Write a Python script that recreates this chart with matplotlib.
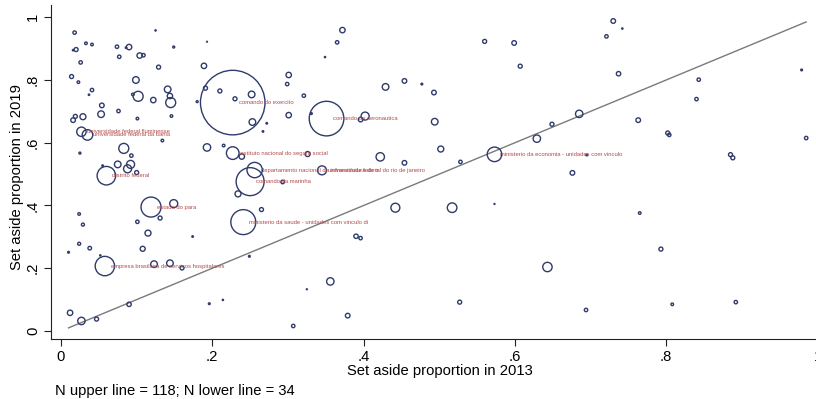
import numpy as np
import matplotlib.pyplot as plt

plt.rcParams["font.family"] = ["Liberation Sans", "DejaVu Sans"]

# set aside proportion per organisation (2013 vs 2019) and bubble weight
share_2013 = [
    0.018, 0.033, 0.041, 0.020, 0.016, 0.074, 0.090, 0.086, 0.125, 0.149,
    0.026, 0.077, 0.104, 0.109, 0.129, 0.189, 0.193, 0.014, 0.023, 0.099,
    0.041, 0.037, 0.102, 0.095, 0.122, 0.141, 0.144, 0.145, 0.054, 0.053,
    0.076, 0.019, 0.016, 0.029, 0.101, 0.146, 0.180, 0.227, 0.191, 0.210,
    0.230, 0.252, 0.253, 0.027, 0.035, 0.025, 0.083, 0.093, 0.134, 0.193,
    0.215, 0.227, 0.239, 0.075, 0.092, 0.088, 0.100, 0.055, 0.060, 0.326,
    0.256, 0.250, 0.234, 0.293, 0.265, 0.119, 0.149, 0.131, 0.101, 0.115,
    0.108, 0.174, 0.024, 0.029, 0.024, 0.038, 0.010, 0.052, 0.241, 0.058,
    0.123, 0.144, 0.160, 0.249, 0.090, 0.012, 0.027, 0.047, 0.196, 0.214,
    0.307, 0.325, 0.372, 0.365, 0.349, 0.301, 0.299, 0.321, 0.301, 0.272,
    0.267, 0.351, 0.331, 0.402, 0.396, 0.429, 0.454, 0.477, 0.493, 0.494,
    0.502, 0.422, 0.454, 0.345, 0.528, 0.442, 0.517, 0.390, 0.396, 0.356,
    0.379, 0.560, 0.599, 0.607, 0.730, 0.742, 0.721, 0.737, 0.573, 0.629,
    0.649, 0.685, 0.676, 0.695, 0.573, 0.643, 0.527, 0.694, 0.843, 0.840,
    0.979, 0.763, 0.802, 0.804, 0.985, 0.885, 0.888, 0.765, 0.793, 0.808,
    0.892,
]
share_2019 = [
    0.951, 0.917, 0.913, 0.897, 0.895, 0.906, 0.905, 0.903, 0.958, 0.905,
    0.856, 0.874, 0.878, 0.879, 0.841, 0.845, 0.922, 0.811, 0.793, 0.800,
    0.768, 0.753, 0.748, 0.754, 0.736, 0.770, 0.749, 0.728, 0.719, 0.691,
    0.701, 0.684, 0.672, 0.683, 0.677, 0.685, 0.731, 0.728, 0.774, 0.765,
    0.740, 0.754, 0.666, 0.635, 0.625, 0.567, 0.582, 0.559, 0.607, 0.585,
    0.591, 0.567, 0.556, 0.531, 0.531, 0.517, 0.505, 0.527, 0.495, 0.564,
    0.513, 0.476, 0.437, 0.475, 0.387, 0.395, 0.406, 0.360, 0.348, 0.312,
    0.262, 0.301, 0.373, 0.339, 0.278, 0.264, 0.251, 0.241, 0.347, 0.207,
    0.213, 0.216, 0.201, 0.238, 0.085, 0.058, 0.032, 0.038, 0.087, 0.099,
    0.016, 0.133, 0.959, 0.920, 0.873, 0.816, 0.787, 0.750, 0.688, 0.662,
    0.636, 0.677, 0.693, 0.685, 0.674, 0.778, 0.797, 0.787, 0.760, 0.667,
    0.580, 0.555, 0.536, 0.512, 0.539, 0.393, 0.393, 0.302, 0.296, 0.158,
    0.049, 0.923, 0.918, 0.844, 0.988, 0.964, 0.939, 0.820, 0.563, 0.613,
    0.659, 0.692, 0.504, 0.561, 0.405, 0.204, 0.092, 0.067, 0.801, 0.739,
    0.832, 0.672, 0.631, 0.625, 0.615, 0.562, 0.552, 0.376, 0.261, 0.085,
    0.092,
]
weight = [
    2.9, 1.7, 1.7, 4, 0.5, 2.9, 7.3, 0.6, 0.4, 1,
    2.9, 2.9, 7.3, 2.9, 4, 7.3, 0.2, 4, 1.7, 11,
    2.9, 0.5, 25, 1.7, 7.3, 11, 7.3, 25, 5.3, 11,
    2.9, 4, 5.3, 9, 1.7, 1.7, 1, 1043, 4, 4,
    4, 11, 11, 22, 28, 1, 25, 2.9, 1.7, 13.7,
    1.7, 40, 7.3, 11, 16, 16, 4, 0.6, 86, 6.3,
    59, 196, 9, 3.2, 4, 100, 16, 4, 2.9, 9,
    6.3, 0.6, 1.7, 2.3, 2.3, 3.2, 0.8, 0.4, 156, 94,
    11, 11, 4, 0.8, 4.8, 7.3, 13.7, 4, 0.8, 0.4,
    2.9, 0.25, 7.3, 2.9, 0.4, 7.3, 2.9, 2.9, 7.3, 0.6,
    0.6, 300, 0.8, 16, 5.3, 11, 5.3, 0.8, 5.3, 11,
    9, 17.6, 5.3, 20, 2.9, 20, 23, 4.8, 2.9, 13.7,
    5.3, 4, 5.3, 4, 5.3, 0.4, 2.9, 4.8, 53, 13.7,
    4, 13.7, 5.3, 0.8, 0.25, 22, 4, 2.9, 2.9, 2.9,
    0.8, 5.3, 4, 2.9, 2.9, 4, 4, 1.7, 4, 1.7,
    2.9,
]

# labelled organisations -> position in the arrays above
labelled = {
    "comando do exercito": 37,
    "universidade federal fluminense": 43,
    "universidade federal da bahia": 44,
    "instituto nacional do seguro social": 51,
    "distrito federal": 58,
    "departamento nacional de infraestrutura de tr": 60,
    "comando da marinha": 61,
    "estado do para": 65,
    "ministerio da saude - unidades com vinculo di": 78,
    "empresa brasileira de servicos hospitalares": 79,
    "comando da aeronautica": 101,
    "universidade federal do rio de janeiro": 113,
    "ministerio da economia - unidades com vinculo": 128,
}

x = np.array(share_2013)
y = np.array(share_2019)
w = np.array(weight)

n_upper = 118
n_lower = 34

navy = "#2f3b6a"
label_col = "#b24a4e"

fig = plt.figure(figsize=(8.16, 3.99), dpi=100)
ax = fig.add_axes([51 / 816, 60 / 399, 779 / 816, 334 / 399])

ax.scatter(x, y, s=w * 2.07, facecolors="none", edgecolors=navy, linewidths=1.0, zorder=3)

# 45 degree reference line
ax.plot([x.min(), x.max()], [x.min(), x.max()], color="#7a7a7a", lw=1.0, zorder=2)

for name, i in labelled.items():
    ax.annotate(name, (x[i], y[i]), xytext=(4.3, 0), textcoords="offset points",
                ha="left", va="center", fontsize=4.2, color=label_col, zorder=4)

ax.set_xlim(-0.0132, 1.0165)
ax.set_ylim(-0.0255, 1.039)

ticks = [0, 0.2, 0.4, 0.6, 0.8, 1]
tick_labels = ["0", ".2", ".4", ".6", ".8", "1"]
ax.set_xticks(ticks)
ax.set_xticklabels(tick_labels)
ax.set_yticks(ticks)
ax.set_yticklabels(tick_labels, rotation=90, va="center")
ax.tick_params(axis="both", labelsize=10.6, length=5, width=0.8, color="#222222", pad=3)

for side in ["top", "right"]:
    ax.spines[side].set_visible(False)
for side in ["left", "bottom"]:
    ax.spines[side].set_color("#222222")
    ax.spines[side].set_linewidth(0.8)

fig.text(440 / 816, 1 - 371 / 399, "Set aside proportion in 2013", ha="center", va="center", fontsize=10.6)
fig.text(17 / 816, 1 - 177 / 399, "Set aside proportion in 2019", ha="center", va="center",
         rotation=90, fontsize=10.6)
fig.text(55 / 816, 1 - 391 / 399, f"N upper line = {n_upper}; N lower line = {n_lower}",
         ha="left", va="center", fontsize=10.6)

fig.savefig("out.png", dpi=100)
